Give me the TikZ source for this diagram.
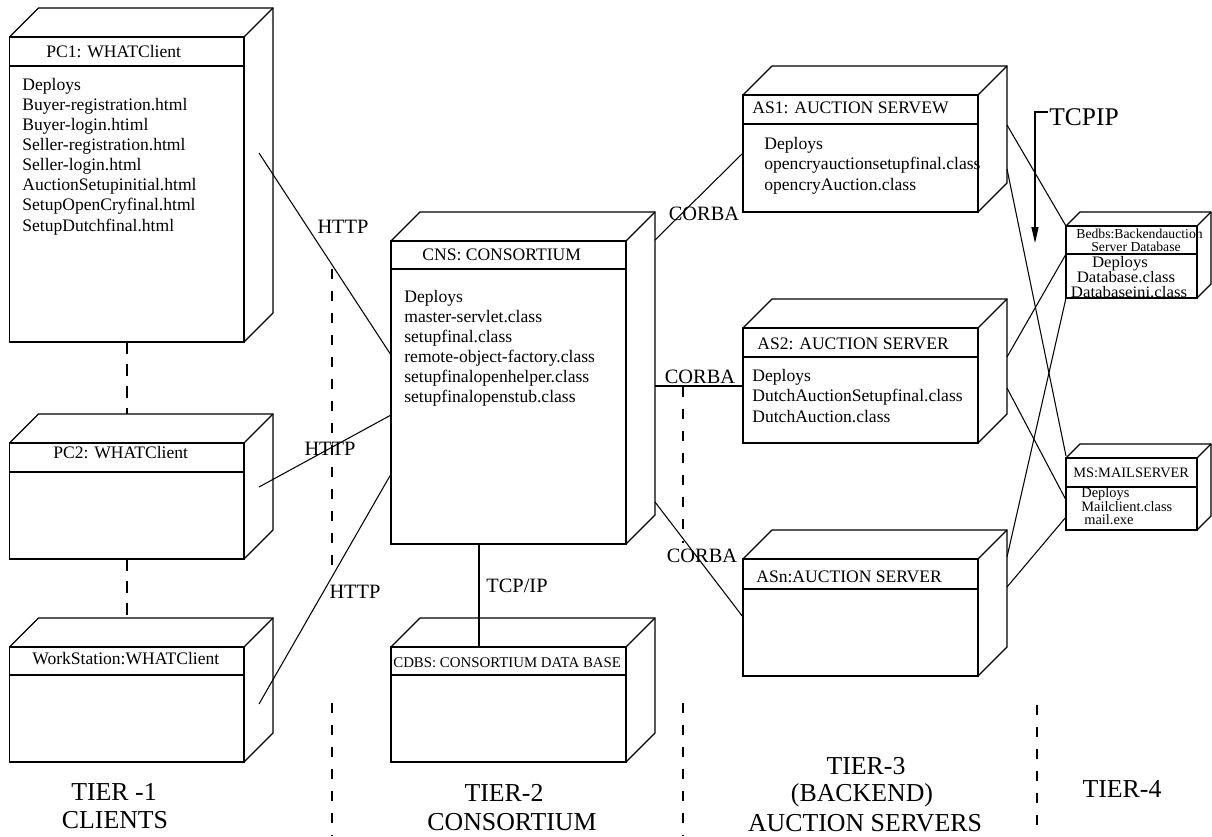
\documentclass[tikz,border=0pt]{standalone}
\usepackage{fontspec}
\setmainfont{Liberation Serif}
\usetikzlibrary{arrows.meta}

% one drawing unit = one pixel of a 1212 x 836 sheet, y growing downwards
\tikzset{
  x=0.02cm, y=-0.02cm,
  boxline/.style={line width=0.75pt, line join=miter},
  face/.style={draw, boxline, inner sep=0pt, outer sep=0pt, anchor=north west},
  link/.style={line width=0.6pt},
  tierdiv/.style={line width=0.6pt, dash pattern=on 5.7pt off 6.8pt},
  nodedash/.style={line width=0.7pt, dash pattern=on 7pt off 5.5pt},
  txt/.style={font=\fontsize{10pt}{11pt}\selectfont, inner sep=0pt, anchor=base west},
  smalltxt/.style={font=\fontsize{8.2pt}{9pt}\selectfont, inner sep=0pt, anchor=base west},
  headtxt/.style={font=\fontsize{7.8pt}{9pt}\selectfont, inner sep=0pt, anchor=base west},
  tinytxt/.style={font=\fontsize{8.2pt}{9pt}\selectfont, inner sep=0pt, anchor=base west},
  dbtxt/.style={font=\fontsize{9.1pt}{10pt}\selectfont, inner sep=0pt, anchor=base, xscale=1.05},
  lbl/.style={font=\fontsize{11.6pt}{13pt}\selectfont, inner sep=0pt, anchor=base},
  tier/.style={font=\fontsize{14.7pt}{17pt}\selectfont, inner sep=0pt, anchor=base},
}

% UML deployment node: name, left, top, right, bottom, header rule, depth
\newcommand{\deploybox}[7]{%
  \node[face, minimum width={(#4-#2)*0.02cm}, minimum height={(#5-#3)*0.02cm}] (#1) at (#2,#3) {};
  \draw[boxline] (#1.north west) -- ++(#7,-#7) -- ++({#4-#2},0) -- ++(0,{#5-#3}) -- (#1.south east);
  \draw[boxline] (#1.north east) -- ++(#7,-#7);
  \draw[boxline] (#1.west |- 0,#6) -- (#1.east |- 0,#6);
}

\begin{document}
\begin{tikzpicture}
\fill[white] (0,0) rectangle (1212,836);
\useasboundingbox (0,0) rectangle (1212,836);

% ---------- tier 1: clients ----------
\deploybox{pc1}{9.5}{37}{244}{342}{66}{29}
\deploybox{pc2}{9.5}{443}{244}{559}{472}{29}
\deploybox{ws}{9.5}{647}{244}{762}{675}{29}

\node[txt] (pc1-h) at (46,57) {PC1: WHATClient};
\foreach \t [count=\i from 0] in {Deploys,Buyer-registration.html,Buyer-login.htiml,Seller-registration.html,Seller-login.html,AuctionSetupinitial.html,SetupOpenCryfinal.html,SetupDutchfinal.html}
  \node[txt] (pc1-l\i) at (22,{90+20.15*\i}) {\t};
\node[txt] (pc2-h) at (53,458) {PC2: WHATClient};
\node[txt] (ws-h) at (32,664) {WorkStation:WHATClient};

\draw[nodedash] (pc1.south -| 127,0) -- (127,414);
\draw[nodedash] (pc2.south -| 127,0) -- (127,618);

% ---------- tier 2: consortium ----------
\deploybox{cns}{391}{241}{626}{544}{269}{29}
\deploybox{cdbs}{391}{647}{626}{762}{675}{29}

\node[txt] (cns-h) at (422,260) {CNS: CONSORTIUM};
\foreach \t [count=\i from 0] in {Deploys,master-servlet.class,setupfinal.class,remote-object-factory.class,setupfinalopenhelper.class,setupfinalopenstub.class}
  \node[txt] (cns-l\i) at (404,{302+20*\i}) {\t};
\node[font=\fontsize{8.45pt}{9pt}\selectfont, inner sep=0pt, anchor=base west] (cdbs-h) at (393,667) {CDBS: CONSORTIUM DATA BASE};

% ---------- tier 3: auction servers ----------
\deploybox{as1}{743}{95}{978}{212}{124}{29}
\deploybox{as2}{743}{328}{978}{443}{357}{29}
\deploybox{asn}{743}{559}{978}{676}{589}{29}

\node[txt] (as1-h) at (752,113) {AS1: AUCTION SERVEW};
\foreach \t [count=\i from 0] in {Deploys,opencryauctionsetupfinal.class,opencryAuction.class}
  \node[txt] (as1-l\i) at (764,{149+20.5*\i}) {\t};
\node[txt] (as2-h) at (757,349) {AS2: AUCTION SERVER};
\foreach \t [count=\i from 0] in {Deploys,DutchAuctionSetupfinal.class,DutchAuction.class}
  \node[txt] (as2-l\i) at (752,{381+20.5*\i}) {\t};
\node[txt] (asn-h) at (756,582) {ASn:AUCTION SERVER};

% ---------- tier 4: database and mail ----------
\deploybox{bedbs}{1066}{226}{1197}{298}{254}{14}
\deploybox{ms}{1066}{458}{1197}{530}{487}{14}

\node[headtxt] (bedbs-h1) at (1076,238) {Bedbs:Backendauction};
\node[headtxt, anchor=base] (bedbs-h2) at (1136,251) {Server Database};
\node[dbtxt] (bedbs-l0) at (1120,267) {Deploys};
\node[dbtxt] (bedbs-l1) at (1126,282) {Database.class};
\node[dbtxt] (bedbs-l2) at (1129,297) {Databaseini.class};

\node[smalltxt] (ms-h) at (1073,477) {MS:MAILSERVER};
\node[tinytxt] (ms-l0) at (1081,497) {Deploys};
\node[tinytxt] (ms-l1) at (1081,511) {Mailclient.class};
\node[tinytxt] (ms-l2) at (1084,524) {mail.exe};

% ---------- attachment points on the side faces ----------
\coordinate (pc1-out) at (259,153);
\coordinate (pc2-out) at (259,487);
\coordinate (ws-out)  at (259,704);
\coordinate (cns-r1) at (655,240);
\coordinate (cns-r2) at (655,386);
\coordinate (cns-r3) at (655,502);
\coordinate (as1-r1) at (1007,125);
\coordinate (as1-r2) at (1007,169);
\coordinate (as2-r1) at (1007,357);
\coordinate (as2-r2) at (1007,388);
\coordinate (asn-r1) at (1007,557);
\coordinate (asn-r2) at (1007,587);

% ---------- connectors ----------
\draw[link] (pc1-out) -- (cns.west |- 0,355);
\draw[link] (pc2-out) -- (cns.west |- 0,415);
\draw[link] (ws-out)  -- (cns.west |- 0,474);
\draw[link] (cns.south -| 479,0) -- (cdbs.north -| 479,0);

\draw[link] (cns-r1) -- (as1.west |- 0,153);
\draw[link] (cns-r2) -- (as2.west |- 0,386);
\draw[link] (cns-r3) -- (asn.west |- 0,617);

\draw[link] (as1-r1) -- (bedbs.north west);
\draw[link] (as1-r2) -- (ms.west |- 0,456);
\draw[link] (as2-r1) -- (bedbs.west |- 0,254);
\draw[link] (as2-r2) -- (ms.west |- 0,500);
\draw[link] (asn-r1) -- (bedbs.south west);
\draw[link] (asn-r2) -- (ms.west |- 0,517);

% connector labels
\node[lbl] (http1) at (343,233) {HTTP};
\node[lbl] (http2) at (330,455) {HTTP};
\node[lbl] (http3) at (355,598) {HTTP};
\node[lbl] (tcpip-db) at (517,592) {TCP/IP};
\node[lbl] (corba1) at (704,220) {CORBA};
\node[lbl] (corba2) at (700,383) {CORBA};
\node[lbl] (corba3) at (702,562) {CORBA};

% TCPIP note with its pointer
\node[font=\fontsize{14.5pt}{16pt}\selectfont, inner sep=0pt, anchor=base west] (tcpip) at (1049,125.5) {TCPIP};
\coordinate (tcpip-start) at (1048,112);
\coordinate (tcpip-tip) at (1035,243);
\draw[link, -{Triangle[length=9pt,width=4pt]}] (tcpip-start) -| (tcpip-tip);

% ---------- tier dividers ----------
\draw[tierdiv] (332,269) -- (332,575);
\draw[tierdiv] (332,703) -- (332,836);
\draw[tierdiv] (683,387) -- (683,543);
\draw[tierdiv] (683,703) -- (683,836);
\draw[tierdiv] (1037,705) -- (1037,836);

% ---------- tier captions ----------
\node[tier] (t1a) at (114,800) {TIER -1};
\node[tier] (t1b) at (115,828) {CLIENTS};
\node[tier] (t2a) at (504,801) {TIER-2};
\node[tier] (t2b) at (512,830) {CONSORTIUM};
\node[tier] (t3a) at (866,774) {TIER-3};
\node[tier] (t3b) at (862,801) {(BACKEND)};
\node[tier] (t3c) at (865,831) {AUCTION SERVERS};
\node[tier] (t4) at (1122,797) {TIER-4};
\end{tikzpicture}
\end{document}
